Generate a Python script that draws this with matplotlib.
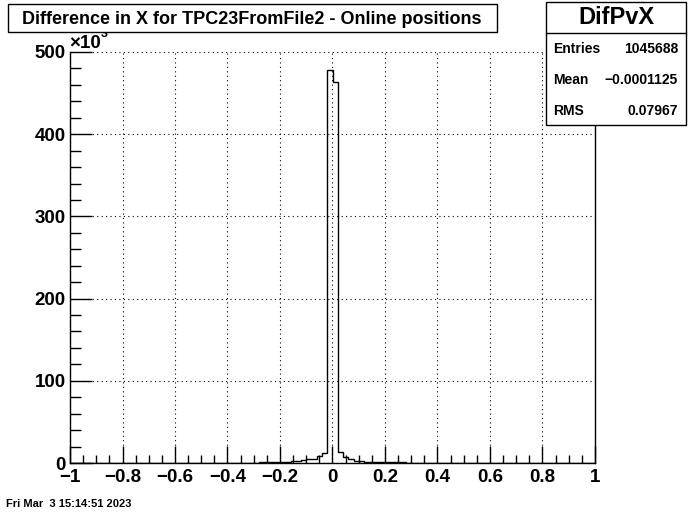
#import the packages
import numpy as np
import matplotlib
matplotlib.use("Agg")
import matplotlib.pyplot as plt
from matplotlib.ticker import MultipleLocator
from matplotlib.patches import Rectangle

plt.rcParams['font.family'] = ['Liberation Sans', 'DejaVu Sans']

#histogram data (counts in units of 10^3), 100 bins from -1 to 1
bin_edges = np.linspace(-1, 1, 101)
bin_centers_left = [-0.35, -0.33, -0.31, -0.29, -0.27, -0.25, -0.23, -0.21, -0.19, -0.17,
                    -0.15, -0.13, -0.11, -0.09, -0.07, -0.05, -0.03, -0.01]
counts_left = [0.2, 0.2, 0.3, 0.4, 1.0, 1.1, 1.2, 1.2, 1.3, 1.3,
               2.0, 2.8, 3.2, 4.3, 4.8, 8.5, 12.5, 478.0]
bin_centers_right = [0.01, 0.03, 0.05, 0.07, 0.09, 0.11, 0.13, 0.15, 0.17, 0.19,
                     0.21, 0.23, 0.25, 0.27, 0.29, 0.31, 0.33, 0.35]
counts_right = [463.0, 13.0, 7.5, 5.0, 2.5, 2.0, 1.3, 1.2, 1.2, 1.1,
                1.1, 1.0, 1.0, 0.9, 0.5, 0.4, 0.3, 0.2]

hist_name = "DifPvX"
title = "Difference in X for TPC23FromFile2 - Online positions"
stats_labels = ["Entries", "Mean", "RMS"]
stats_values = ["1045688", "\u22120.0001125", "0.07967"]
date_text = "Fri Mar  3 15:14:51 2023"

#fill the 100 bins
counts = np.zeros(100)
for c, v in zip(bin_centers_left + bin_centers_right, counts_left + counts_right):
    counts[int(np.floor((c + 1) / 0.02))] = v

W, H = 700, 514
fig = plt.figure(figsize=(W / 100, H / 100), dpi=100)
fig.patch.set_facecolor("white")

#axes position in pixels: x 70..595, y 52..463
ax = fig.add_axes([70 / W, 1 - 463 / H, 525 / W, 411 / H])
ax.stairs(counts, bin_edges, color="black", linewidth=1.0)
ax.set_xlim(-1, 1)
ax.set_ylim(0, 500)

ax.xaxis.set_major_locator(MultipleLocator(0.2))
ax.xaxis.set_minor_locator(MultipleLocator(0.05))
ax.yaxis.set_major_locator(MultipleLocator(100))
ax.yaxis.set_minor_locator(MultipleLocator(20))
ax.tick_params(axis="both", which="both", direction="in", top=False, right=False, colors="black")
ax.tick_params(axis="x", which="major", length=12, width=1, labelsize=13.5, pad=4)
ax.tick_params(axis="x", which="minor", length=6, width=1)
ax.tick_params(axis="y", which="major", length=16, width=1, labelsize=13.5, pad=3)
ax.tick_params(axis="y", which="minor", length=8, width=1)
for lab in ax.get_yticklabels():
    lab.set_fontweight("bold")

def fmt(v):
    s = f"{v:g}"
    if abs(v) < 1e-9:
        s = "0"
    return s.replace("-", "\u2212")
xt = np.arange(-1, 1.01, 0.2)
ax.set_xticks(xt)
ax.set_xticklabels([fmt(round(v, 1)) for v in xt], fontweight="bold")

ax.grid(True, which="major", linestyle=(0, (1, 3)), color="black", linewidth=0.8)
ax.spines["top"].set_visible(False)
for s in ["left", "bottom", "right"]:
    ax.spines[s].set_linewidth(1.0)

#x10^3 multiplier (the exponent sits partly under the title box)
fig.text(69 / W, 1 - 52 / H, "\u00d710", fontsize=13.5, fontweight="bold", ha="left", va="bottom")
fig.text(101 / W, 1 - 40 / H, "3", fontsize=9, fontweight="bold", ha="left", va="bottom", zorder=2)

#title box
fig.patches.append(Rectangle((8 / W, 1 - 32 / H), 489 / W, 28 / H, transform=fig.transFigure,
                             facecolor="white", edgecolor="black", linewidth=1.0, zorder=10))
fig.text(252 / W, 1 - 19 / H, title, fontsize=13, fontweight="bold", ha="center", va="center", zorder=11)

#stats box
fig.patches.append(Rectangle((546 / W, 1 - 125 / H), 140 / W, 123 / H, transform=fig.transFigure,
                             facecolor="white", edgecolor="black", linewidth=1.0, zorder=5))
fig.lines.append(plt.Line2D([546 / W, 686 / W], [1 - 33 / H, 1 - 33 / H], transform=fig.transFigure,
                            color="black", linewidth=1.0, zorder=6))
fig.text(616 / W, 1 - 18 / H, hist_name, fontsize=17, fontweight="bold", ha="center", va="center", zorder=7)
for i, (lab, val) in enumerate(zip(stats_labels, stats_values)):
    y = 1 - (49 + 31 * i) / H
    fig.text(553 / W, y, lab, fontsize=10, fontweight="bold", ha="left", va="center", zorder=7)
    fig.text(678 / W, y, val, fontsize=10, fontweight="bold", ha="right", va="center", zorder=7)

#date stamp
fig.text(6 / W, 1 - 504 / H, date_text, fontsize=8, fontweight="bold", ha="left", va="center")

fig.savefig("out.png", dpi=100)
